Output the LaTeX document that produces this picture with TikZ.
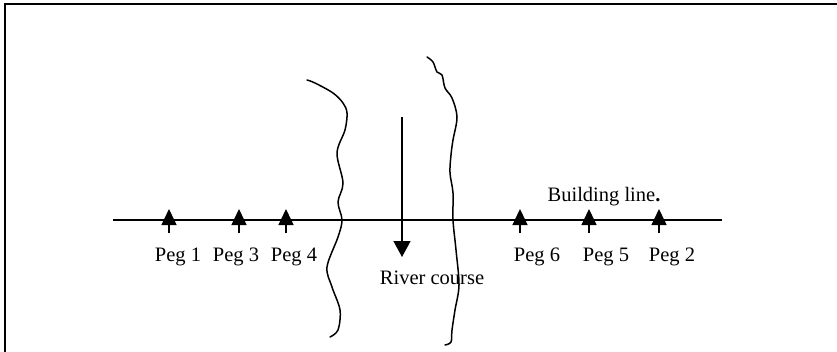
\documentclass[tikz,border=0pt]{standalone}
\usepackage{fontspec}
\setmainfont{Liberation Serif}
\usetikzlibrary{arrows.meta}
\tikzset{
  line/.style={line width=1.5pt},
  pegarrow/.style={line width=1.5pt, -{Triangle[length=16pt,width=15pt]}},
  flowarrow/.style={line width=1.5pt, -{Triangle[length=16pt,width=17pt]}},
  bank/.style={line width=1.5pt, line join=round, line cap=round},
  lbl/.style={inner sep=0pt, anchor=base, font=\fontsize{20.5}{24}\selectfont},
}
\begin{document}
\begin{tikzpicture}[x=1pt,y=-1pt]
  \useasboundingbox (0,0) rectangle (837,351);
  \begin{scope}
    \clip (0,0) rectangle (837,351);
    % outer frame (runs off the page on the right and bottom)
    \draw[line width=2pt] (5,4) rectangle (900,420);
  \end{scope}

  % building line
  \coordinate (bl0) at (113,220);
  \coordinate (bl1) at (722,220);
  \draw[line] (bl0) -- (bl1);

  % pegs: foot and tip of each marker
  \foreach \n/\x in {1/169,3/239,4/286,6/520,5/589,2/659}{
    \coordinate (foot\n) at (\x,233);
    \coordinate (tip\n) at (\x,209);
    \draw[pegarrow] (foot\n) -- (tip\n);
  }

  % peg labels
  \node[lbl] (lab1) at (178,261) {Peg 1};
  \node[lbl] (lab3) at (236,261) {Peg 3};
  \node[lbl] (lab4) at (294,261) {Peg 4};
  \node[lbl] (lab6) at (537,261) {Peg 6};
  \node[lbl] (lab5) at (606,261) {Peg 5};
  \node[lbl] (lab2) at (672,261) {Peg 2};

  \node[lbl] (bline) at (604,201) {Building line\textbf{.}};

  % river banks
  \draw[bank] plot[smooth, tension=0.55] coordinates {
    (307,80) (315,83) (333,93) (343,103) (347,113) (345,130) (337,153)
    (343,183) (338,202) (342,220) (338,237) (327,267) (332,287)
    (340,310) (338,330) (330,337)};
  \draw[bank] plot[smooth, tension=0.55] coordinates {
    (427,57) (433,62) (437,72) (442,75) (445,88) (452,98) (457,117)
    (453,140) (451,155) (450,173) (453,193) (453,220) (456,250)
    (459,285) (455,310) (452,330) (451,342) (445,345)};

  % direction of flow
  \coordinate (rtop) at (402,117);
  \coordinate (rbot) at (402,257);
  \draw[flowarrow] (rtop) -- (rbot);
  \node[lbl] (river) at (432,284) {River course};
\end{tikzpicture}
\end{document}
